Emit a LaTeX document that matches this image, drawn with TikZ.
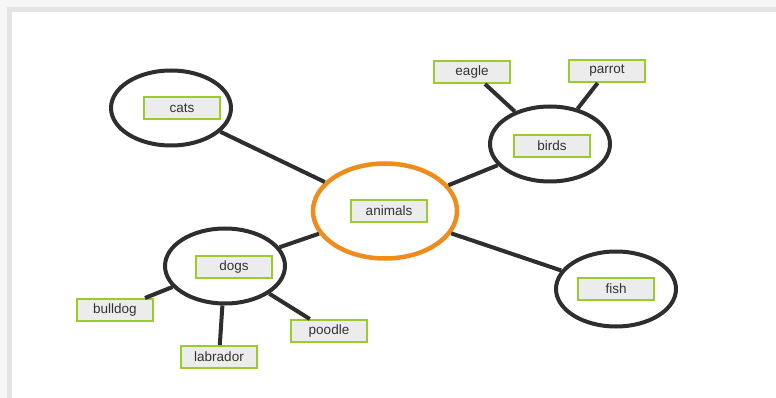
\documentclass[tikz,border=0pt]{standalone}
\usepackage{fontspec}
\setmainfont{Liberation Sans}
\usepackage{xcolor}
\usetikzlibrary{shapes.geometric, positioning}
\definecolor{ringorange}{HTML}{EE8C1E}
\definecolor{ringdark}{HTML}{2E2E2E}
\definecolor{tagborder}{HTML}{9CCB2C}
\definecolor{tagfill}{HTML}{ECECEC}
\definecolor{framegray}{HTML}{E4E4E4}
\definecolor{outergray}{HTML}{F6F6F6}
\tikzstyle{ring} = [ellipse, draw=ringdark, line width=4pt, minimum width=120pt, minimum height=75pt, inner sep=0pt]
\tikzstyle{hub} = [ellipse, draw=ringorange, line width=4.5pt, minimum width=144pt, minimum height=95pt, inner sep=0pt]
\tikzstyle{tag} = [rectangle, draw=tagborder, line width=2pt, fill=tagfill, minimum width=76pt, minimum height=22pt, inner sep=0pt, text centered, font=\fontsize{13.5}{16}\selectfont, text=black!80]
\tikzstyle{link} = [draw=ringdark, line width=4pt]

\begin{document}
\begin{tikzpicture}[x=1pt, y=-1pt]
    % page frame
    \fill[outergray] (0,0) rectangle (776,398);
    \fill[framegray] (7,7) rectangle (776,398);
    \fill[white] (12,12) rectangle (776,398);
    \useasboundingbox (0,0) rectangle (776,398);

    \node (animalsring) [hub] at (385,211) {};
    \node (catsring) [ring] at (171,108) {};
    \node (birdsring) [ring] at (550,144) {};
    \node (dogsring) [ring] at (225,266) {};
    \node (fishring) [ring] at (616,289) {};

    \node (eagle) [tag] at (472,72) {eagle};
    \node (parrot) [tag] at (607,71) {parrot};
    \node (bulldog) [tag] at (115,310) {bulldog};
    \node (labrador) [tag] at (219,357) {labrador};
    \node (poodle) [tag] at (329,331) {poodle};

    \draw [link] (animalsring) -- (catsring);
    \draw [link] (animalsring) -- (birdsring);
    \draw [link] (animalsring) -- (dogsring);
    \draw [link] (animalsring) -- (fishring);
    \draw [link] (birdsring) -- (eagle);
    \draw [link] (birdsring) -- (parrot);
    \draw [link] (dogsring) -- (bulldog);
    \draw [link] (dogsring) -- (labrador);
    \draw [link] (dogsring) -- (poodle);

    \node (animals) [tag] at (389,211) {animals};
    \node (cats) [tag] at (182,108) {cats};
    \node (birds) [tag] at (552,146) {birds};
    \node (dogs) [tag] at (234,267) {dogs};
    \node (fish) [tag] at (616,289) {fish};
\end{tikzpicture}
\end{document}
